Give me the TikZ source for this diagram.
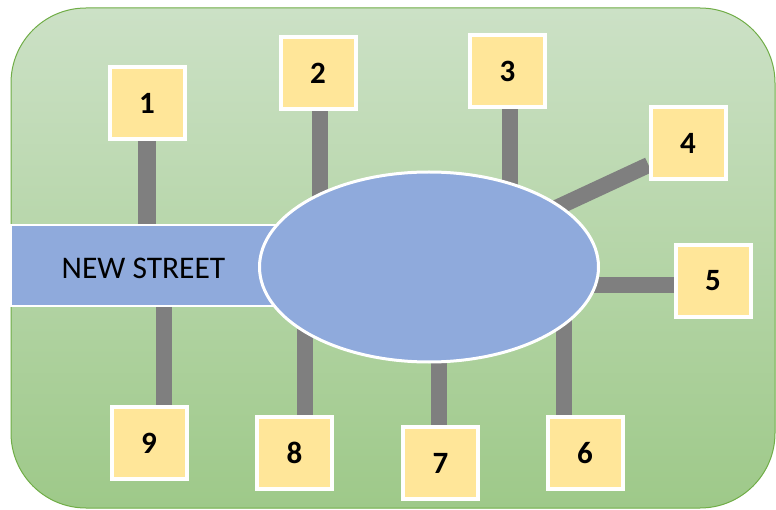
\documentclass[tikz,border=0pt]{standalone}
\usepackage{fontspec}
\setmainfont{Carlito}
\usetikzlibrary{shapes.geometric,calc}
\definecolor{bgtop}{RGB}{204,225,198}
\definecolor{bgmid}{RGB}{172,207,156}
\definecolor{bgbot}{RGB}{158,201,137}
\definecolor{bgedge}{RGB}{112,173,71}
\definecolor{water}{RGB}{143,170,220}
\definecolor{boxfill}{RGB}{255,230,153}
\definecolor{roadgray}{RGB}{127,127,127}
\pgfdeclarelayer{bg}
\pgfsetlayers{bg,main}
\begin{document}
\begin{tikzpicture}[x=1pt,y=-1pt,
  lot/.style={draw=white,line width=4pt,fill=boxfill,minimum width=75pt,minimum height=72pt,inner sep=0pt,font=\bfseries\fontsize{31}{31}\selectfont},
  lane/.style={draw=roadgray,line width=16pt},
  waterbody/.style={draw=white,fill=water,inner sep=0pt}]
\useasboundingbox (0,0) rectangle (776,510);

% street and lake
\node[waterbody,line width=2.5pt,minimum width=289pt,minimum height=81pt] (street) at (155.5,265.5) {};
\node[font=\fontsize{31.5}{31.5}\selectfont] (streetname) at (143.5,268) {NEW STREET};
\node[waterbody,ellipse,line width=3pt,minimum width=339pt,minimum height=190pt] (lake) at (429,267) {};

% lots
\node[lot] (b1) at (147,103) {1};
\node[lot] (b2) at (318,73.5) {2};
\node[lot] (b3) at (507.5,71.5) {3};
\node[lot] (b4) at (688,143) {4};
\node[lot] (b5) at (713,281) {5};
\node[lot] (b6) at (585,453) {6};
\node[lot] (b7) at (440.5,463) {7};
\node[lot] (b8) at (294.5,453) {8};
\node[lot] (b9) at (149,443) {9};

\begin{pgfonlayer}{bg}
\fill[white] (0,0) rectangle (776,510);
\draw[bgedge,line width=1pt,top color=bgtop,middle color=bgmid,bottom color=bgbot,rounded corners=75pt] (11,8) rectangle (775,508);
\draw[lane,line width=18pt] (b1.center) -- (b1.center |- street.center);
\draw[lane] ($(b2.center)+(2,0)$) -- ($(lake.center)+(-109,0)$);
\draw[lane] ($(b3.center)+(2.5,0)$) -- ($(lake.center)+(81,0)$);
\draw[lane] ($(b4.west)+(0,22)$) -- (lake.center);
\draw[lane] ($(b5.center)+(0,4.5)$) -- ($(lake.center)+(0,18.5)$);
\draw[lane] ($(b6.center)+(-21,0)$) -- ($(lake.center)+(135,0)$);
\draw[lane] ($(b7.center)+(-1.5,0)$) -- ($(lake.center)+(10,0)$);
\draw[lane] ($(b8.center)+(10,0)$) -- ($(lake.center)+(-124.5,0)$);
\draw[lane] ($(b9.center)+(15,0)$) -- ($(street.center)+(8.5,0)$);
\end{pgfonlayer}
\end{tikzpicture}
\end{document}
